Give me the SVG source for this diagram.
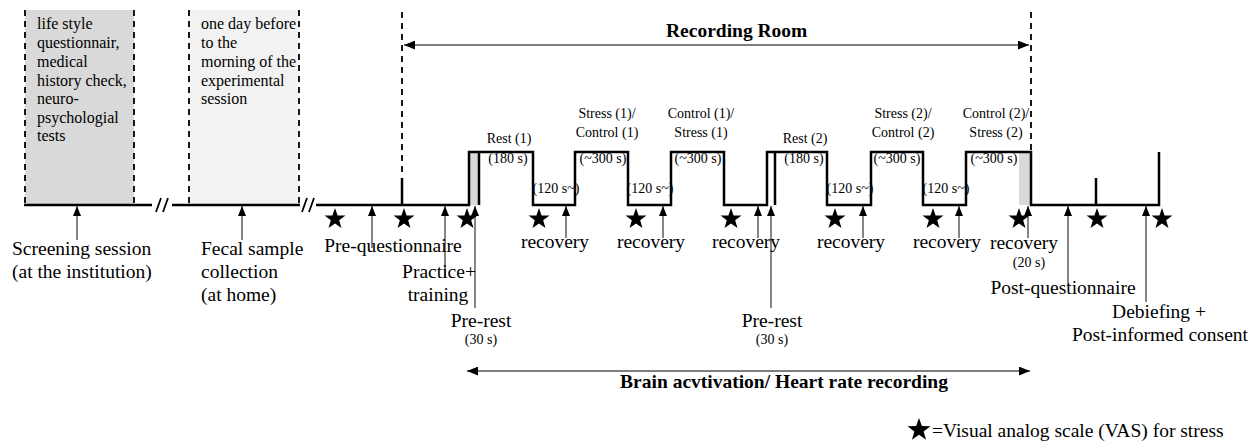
<svg xmlns="http://www.w3.org/2000/svg" width="1258" height="441" viewBox="0 0 1258 441">
<style>
text{font-family:"Liberation Serif","Times New Roman",serif;fill:#000}
.lb{font-size:19.5px}
.sm{font-size:14px}
.bx{font-size:16px}
.bd{font-size:19.5px;font-weight:bold}
.mid{text-anchor:middle}
.tl{fill:none;stroke:#000;stroke-width:2.5}
.dash{fill:none;stroke:#000;stroke-width:1.8;stroke-dasharray:6 5}
.ar{stroke:#444;stroke-width:1.3;fill:none;marker-end:url(#ah)}
.da{stroke:#555;stroke-width:1.5;fill:none;marker-start:url(#ah2);marker-end:url(#ah2)}
</style>
<defs>
<marker id="ah" viewBox="0 0 10 8" refX="10" refY="4" markerWidth="10" markerHeight="8" markerUnits="userSpaceOnUse" orient="auto"><path d="M0,0 L10,4 L0,8 Z" fill="#000"/></marker>
<marker id="ah2" viewBox="0 0 10 8" refX="10" refY="4" markerWidth="11" markerHeight="9" markerUnits="userSpaceOnUse" orient="auto-start-reverse"><path d="M0,0 L10,4 L0,8 Z" fill="#000"/></marker>
<path id="star" d="M0,-11 L2.59,-3.56 L10.46,-3.4 L4.18,1.36 L6.47,8.9 L0,4.4 L-6.47,8.9 L-4.18,1.36 L-10.46,-3.4 L-2.59,-3.56 Z" fill="#000"/>
</defs>

<g id="screening-box">
<rect x="25" y="10" width="109" height="195" fill="#d9d9d9"/>
<line class="dash" x1="25" y1="10" x2="25" y2="205"/>
<line class="dash" x1="134" y1="10" x2="134" y2="205"/>
<text class="bx" x="37"><tspan x="37" y="29">life style</tspan><tspan x="37" y="48">questionnair,</tspan><tspan x="37" y="67">medical</tspan><tspan x="37" y="86">history check,</tspan><tspan x="37" y="104">neuro-</tspan><tspan x="37" y="123">psychologial</tspan><tspan x="37" y="141">tests</tspan></text>
</g>

<g id="fecal-box">
<rect x="189" y="10" width="110" height="195" fill="#f2f2f2"/>
<line class="dash" x1="189" y1="10" x2="189" y2="205"/>
<line class="dash" x1="299" y1="10" x2="299" y2="205"/>
<text class="bx"><tspan x="201" y="29">one day before</tspan><tspan x="201" y="48">to the</tspan><tspan x="201" y="67">morning of the</tspan><tspan x="201" y="86">experimental</tspan><tspan x="201" y="104">session</tspan></text>
</g>

<g id="timeline">
<line class="tl" x1="24" y1="205" x2="152" y2="205"/>
<line class="tl" x1="172" y1="205" x2="300" y2="205"/>
<path d="M156,212 L161,198 M163,212 L168,198 M302,212 L307,198 M309,212 L314,198" stroke="#000" stroke-width="1.8" fill="none"/>
<rect x="469" y="152" width="10" height="53" fill="#d9d9d9"/>
<rect x="1019" y="152" width="12" height="53" fill="#d9d9d9"/>
<path class="tl" d="M316,205 L469,205 L469,152 L533,152 L533,205 L575,205 L575,152 L628,152 L628,205 L671,205 L671,152 L724,152 L724,205 L767,205 L767,152 L827,152 L827,205 L871,205 L871,152 L923,152 L923,205 L966,205 L966,152 L1031,152 L1031,205 L1159,205 L1159,152"/>
<line class="tl" x1="479" y1="152" x2="479" y2="205"/>
<line class="tl" x1="775" y1="152" x2="775" y2="205"/>
<line class="tl" x1="402" y1="178" x2="402" y2="205"/>
<line class="tl" x1="1096" y1="178" x2="1096" y2="205"/>
<line class="dash" x1="402" y1="12" x2="402" y2="176"/>
<line class="dash" x1="1031" y1="12" x2="1031" y2="152"/>
</g>

<g id="connectors">
<line class="da" x1="404" y1="45" x2="1029" y2="45"/>
<line class="da" x1="467" y1="371" x2="1030" y2="371"/>
<line class="ar" x1="77" y1="240" x2="77" y2="206"/>
<line class="ar" x1="242" y1="240" x2="242" y2="206"/>
<line class="ar" x1="372" y1="248" x2="372" y2="206"/>
<line class="ar" x1="445" y1="277" x2="445" y2="206"/>
<line class="ar" x1="475" y1="308" x2="475" y2="206"/>
<line class="ar" x1="566" y1="238" x2="566" y2="206"/>
<line class="ar" x1="663" y1="238" x2="663" y2="206"/>
<line class="ar" x1="758" y1="238" x2="758" y2="206"/>
<line class="ar" x1="771" y1="308" x2="771" y2="206"/>
<line class="ar" x1="863" y1="238" x2="863" y2="206"/>
<line class="ar" x1="959" y1="238" x2="959" y2="206"/>
<line class="ar" x1="1028" y1="238" x2="1028" y2="206"/>
<line class="ar" x1="1068" y1="285" x2="1068" y2="206"/>
<line class="ar" x1="1146" y1="302" x2="1146" y2="206"/>
</g>

<g id="stars">
<use href="#star" x="335" y="219"/>
<use href="#star" x="404" y="219"/>
<use href="#star" x="467" y="219"/>
<use href="#star" x="539" y="219"/>
<use href="#star" x="636" y="219"/>
<use href="#star" x="731" y="219"/>
<use href="#star" x="835" y="219"/>
<use href="#star" x="933" y="219"/>
<use href="#star" x="1019" y="219"/>
<use href="#star" x="1097" y="219"/>
<use href="#star" x="1162" y="219"/>
</g>

<g id="step-labels">
<text class="sm mid" x="509" y="143">Rest (1)</text>
<text class="sm mid" x="508" y="163">(180 s)</text>
<text class="sm mid" x="607" y="118">Stress (1)/</text>
<text class="sm mid" x="607" y="137">Control (1)</text>
<text class="sm mid" x="603" y="163">(~300 s)</text>
<text class="sm mid" x="701" y="118">Control (1)/</text>
<text class="sm mid" x="701" y="137">Stress (1)</text>
<text class="sm mid" x="698" y="163">(~300 s)</text>
<text class="sm mid" x="805" y="143">Rest (2)</text>
<text class="sm mid" x="804" y="163">(180 s)</text>
<text class="sm mid" x="903" y="118">Stress (2)/</text>
<text class="sm mid" x="903" y="137">Control (2)</text>
<text class="sm mid" x="897" y="163">(~300 s)</text>
<text class="sm mid" x="996" y="118">Control (2)/</text>
<text class="sm mid" x="996" y="137">Stress (2)</text>
<text class="sm mid" x="994" y="163">(~300 s)</text>
<text class="sm mid" x="556" y="193">(120 s~)</text>
<text class="sm mid" x="650" y="193">(120 s~)</text>
<text class="sm mid" x="850" y="193">(120 s~)</text>
<text class="sm mid" x="946" y="193">(120 s~)</text>
</g>

<g id="event-labels">
<text class="lb"><tspan x="12" y="255">Screening session</tspan><tspan x="12" y="278">(at the institution)</tspan></text>
<text class="lb"><tspan x="201" y="255">Fecal sample</tspan><tspan x="201" y="278">collection</tspan><tspan x="201" y="301">(at home)</tspan></text>
<text class="lb mid" x="393" y="252">Pre-questionnaire</text>
<text class="lb mid" x="439" y="278">Practice+</text>
<text class="lb mid" x="438" y="301">training</text>
<text class="lb mid" x="481" y="327">Pre-rest</text>
<text class="sm mid" x="481" y="344">(30 s)</text>
<text class="lb mid" x="555" y="248">recovery</text>
<text class="lb mid" x="651" y="248">recovery</text>
<text class="lb mid" x="746" y="248">recovery</text>
<text class="lb mid" x="772" y="327">Pre-rest</text>
<text class="sm mid" x="772" y="344">(30 s)</text>
<text class="lb mid" x="851" y="248">recovery</text>
<text class="lb mid" x="947" y="248">recovery</text>
<text class="lb mid" x="1024" y="249">recovery</text>
<text class="sm mid" x="1029" y="267">(20 s)</text>
<text class="lb mid" x="1063" y="294">Post-questionnaire</text>
<text class="lb mid" x="1159" y="318">Debiefing +</text>
<text class="lb mid" x="1160" y="341">Post-informed consent</text>
<text class="bd" x="666" y="37">Recording Room</text>
<text class="bd mid" x="784" y="388">Brain acvtivation/ Heart rate recording</text>
</g>

<g id="legend">
<use href="#star" x="0" y="0" transform="translate(919,430) scale(1.1)"/>
<text class="lb" x="932" y="437">=Visual analog scale (VAS) for stress</text>
</g>
</svg>
